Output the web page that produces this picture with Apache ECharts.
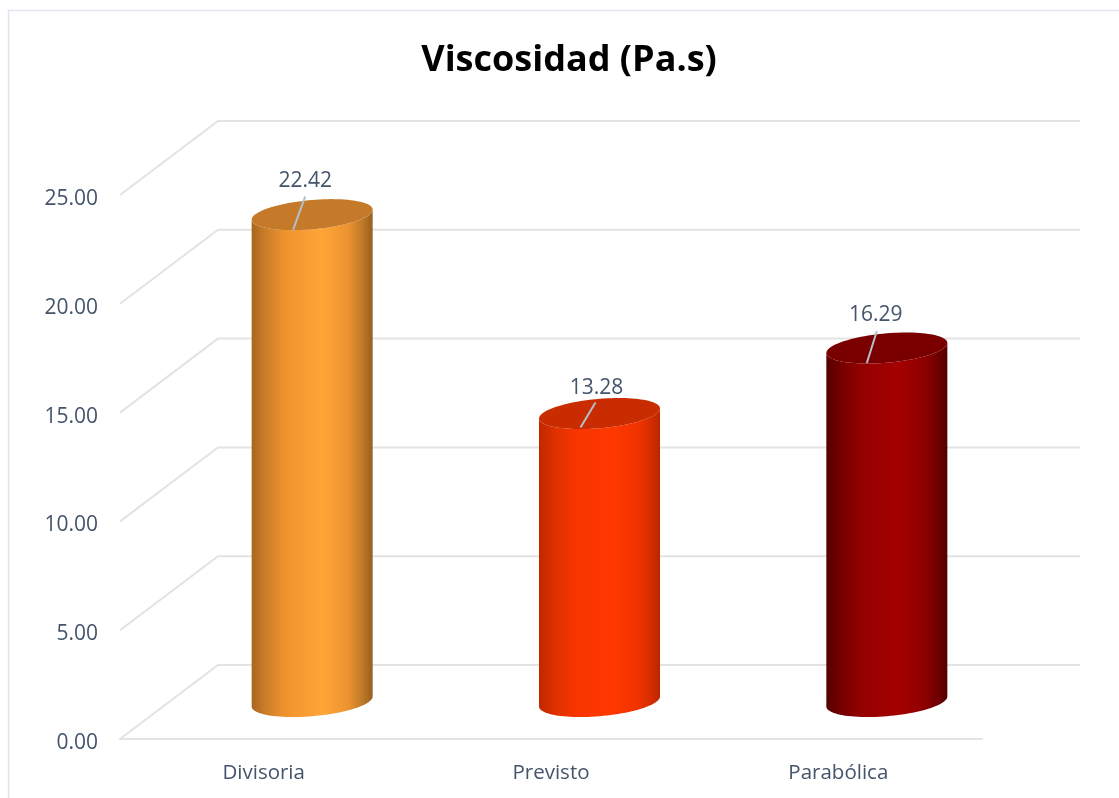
<!DOCTYPE html>
<html><head><meta charset="utf-8">
<style>html,body{margin:0;padding:0;background:#fff;overflow:hidden}#c{width:1119px;height:798px}</style>
<script src="https://cdn.jsdelivr.net/npm/echarts@6/dist/echarts.min.js"></script>
</head><body><div id="c"></div>
<script>
const categories = ['Divisoria', 'Previsto', 'Parabólica'];
const values = [22.42, 13.28, 16.29];
const yTicks = [0, 5, 10, 15, 20, 25];
const chartTitle = 'Viscosidad (Pa.s)';

const sideStops = [
  [[0,'#a8651f'],[0.12,'#cc7f2a'],[0.28,'#f0932f'],[0.58,'#ffa537'],[0.8,'#ec9331'],[0.92,'#bd7828'],[1,'#94601f']],
  [[0,'#c02800'],[0.14,'#e03000'],[0.3,'#f83400'],[0.6,'#ff3800'],[0.82,'#f03300'],[0.93,'#d42c00'],[1,'#b82600']],
  [[0,'#560000'],[0.14,'#780000'],[0.3,'#960000'],[0.58,'#a40000'],[0.8,'#900000'],[0.92,'#700000'],[1,'#520000']]
];
const topColors = ['#c47a28', '#c82c00', '#7a0000'];
const labelNudge = [[-7,-34,-7,-18,-19,15],[-3,-26,-4,-11,-19,14],[-11,-33.5,-10,-17,-20,15]];

const DEPTH_X = 98, DEPTH_Y = 74, RX = 60.5, RY = 14.7, SHEAR = 5;
const FONT = '"Open Sans", sans-serif';
const TEXT = '#44546a';

function arc(cx, cy, from, to, n) {
  const pts = [];
  for (let i = 0; i <= n; i++) {
    const t = from + (to - from) * i / n;
    pts.push([cx + RX * Math.cos(t), cy + RY * Math.sin(t) - SHEAR * Math.cos(t)]);
  }
  return pts;
}

const chart = echarts.init(document.getElementById('c'), null, {renderer:'canvas'});
chart.setOption({
  animation: false,
  backgroundColor: '#fff',
  title: {text: chartTitle, left: 564, top: 38, textAlign: 'center',
    textStyle: {fontFamily: FONT, fontWeight: 'bold', fontSize: 36, color: '#000'}},
  graphic: [{type:'rect', z:0, silent:true, shape:{x:8.5,y:10.5,width:1200,height:900},
    style:{fill:'none',stroke:'#dfe4ee',lineWidth:1.5}}],
  grid: {left:120, top:195, width:862, height:544},
  xAxis: {type:'category', data:categories, axisTick:{show:false},
    axisLine:{lineStyle:{color:'#e3e3e3',width:2}},
    axisLabel:{fontFamily:FONT,fontSize:20.5,color:TEXT,margin:24}},
  yAxis: {type:'value', min:0, max:25, interval:5, splitLine:{show:false},
    axisLine:{show:false}, axisTick:{show:false},
    axisLabel:{fontFamily:FONT,fontSize:21,color:TEXT,margin:22,verticalAlign:'top',lineHeight:8,formatter:v=>v.toFixed(2)}},
  series: [
    {type:'custom', z:1, silent:true, clip:false, data:yTicks.map(v=>[0,v]),
     renderItem(params, api){
       const g = params.coordSys;
       const y = api.coord([0, api.value(1)])[1];
       return {type:'polyline', silent:true, shape:{points:[[g.x,y],[g.x+DEPTH_X,y-DEPTH_Y],[g.x+g.width+DEPTH_X,y-DEPTH_Y]]},
         style:{fill:'none',stroke:'#e3e3e3',lineWidth:2}};
     }},
    {type:'custom', z:3, clip:false, data:values.map((v,i)=>[i,v]),
     renderItem(params, api){
       const i = api.value(0);
       const top = api.coord([i, api.value(1)]);
       const base = api.coord([i, 0]);
       const cx = top[0] + DEPTH_X/2 - 0.5;
       const ty = top[1] - 36.5;
       const by = base[1] - 37.5;
       const side = arc(cx, by, 0, Math.PI, 50).concat(arc(cx, ty, Math.PI, 0, 50));
       const n = labelNudge[i];
       return {type:'group', children:[
         {type:'polygon', shape:{points:side}, style:{
           fill:new echarts.graphic.LinearGradient(0,0,1,0,sideStops[i].map(s=>({offset:s[0],color:s[1]})))}},
         {type:'polygon', shape:{points:arc(cx,ty,0,2*Math.PI,100)}, style:{fill:topColors[i]}},
         {type:'line', shape:{x1:cx+n[2],y1:ty+n[3],x2:cx+n[4],y2:ty+n[5]}, style:{stroke:'#b4bfcc',lineWidth:2}},
         {type:'text', style:{x:cx+n[0],y:ty+n[1],text:api.value(1).toFixed(2),align:'center',verticalAlign:'middle',
           font:'21px '+FONT,fill:TEXT}}
       ]};
     }}
  ]
});
</script></body></html>
